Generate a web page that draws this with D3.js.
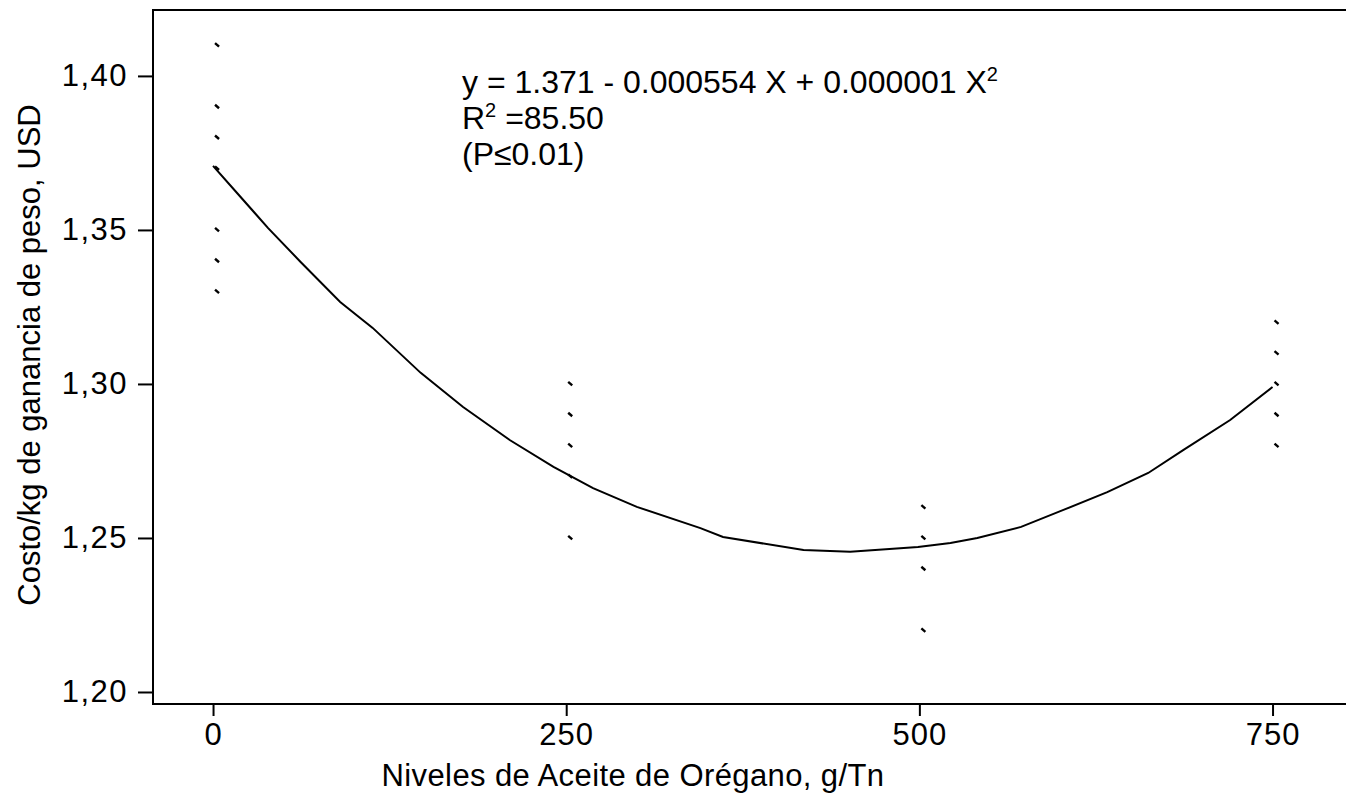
<!DOCTYPE html>
<html>
<head>
<meta charset="utf-8">
<script src="https://cdn.jsdelivr.net/npm/d3@7"></script>
<style>
  body { margin: 0; background: #fff; }
  text { font-family: "Liberation Sans", Arial, sans-serif; fill: #000; }
</style>
</head>
<body>
<script>
// observed points (level g/Tn, cost USD)
var obsX = [0, 0, 0, 0, 0, 0, 0, 250, 250, 250, 250, 250, 500, 500, 500, 500, 750, 750, 750, 750, 750]
var obsY = [1.41, 1.39, 1.38, 1.37, 1.35, 1.34, 1.33, 1.30, 1.29, 1.28, 1.27, 1.25, 1.26, 1.25, 1.24, 1.22, 1.32, 1.31, 1.30, 1.29, 1.28]

// fitted curve
var fitX = [0, 17, 39, 62, 90, 113, 147, 177, 210, 241, 269, 300, 345, 361, 418, 451, 499, 522, 541, 572, 602, 633, 662, 687, 720, 750]
var fitY = [1.3708, 1.3620, 1.3506, 1.3396, 1.3266, 1.3182, 1.3036, 1.2925, 1.2818, 1.2731, 1.2662, 1.2601, 1.2532, 1.2503, 1.2461, 1.2455, 1.2471, 1.2484, 1.2500, 1.2536, 1.2591, 1.2649, 1.2711, 1.2786, 1.2883, 1.2990]

var xTicks = [0, 250, 500, 750]
var yTicks = [1.20, 1.25, 1.30, 1.35, 1.40]

var width = 1346, height = 794
var margin = {left: 153, right: 0, top: 10, bottom: 90}
var font = '"Liberation Sans", Arial, sans-serif'

var svg = d3.select('body').append('svg')
    .attr('width', width)
    .attr('height', height)

var x = d3.scaleLinear()
    .domain([-42.5, 802])
    .range([margin.left, width - margin.right])

var y = d3.scaleLinear()
    .domain([1.1961, 1.4214])
    .range([height - margin.bottom, margin.top])

// frame: left, top, bottom
svg.append('path')
    .attr('d', `M${width},${margin.top}H${margin.left}V${height - margin.bottom}H${width}`)
    .attr('fill', 'none')
    .attr('stroke', '#000')
    .attr('stroke-width', 2)

var fmt = d3.format('.2f')

var yAxis = svg.append('g')
    .attr('transform', `translate(${margin.left},0)`)
    .call(d3.axisLeft(y).tickValues(yTicks).tickSize(15).tickPadding(10)
        .tickFormat(d => fmt(d).replace('.', ',')))
yAxis.select('.domain').remove()
yAxis.selectAll('line').attr('stroke-width', 2)
yAxis.selectAll('text').attr('font-size', 31).attr('font-family', font).attr('letter-spacing', 1.5)

var xAxis = svg.append('g')
    .attr('transform', `translate(0,${height - margin.bottom})`)
    .call(d3.axisBottom(x).tickValues(xTicks).tickSize(12).tickPadding(7))
xAxis.select('.domain').remove()
xAxis.selectAll('line').attr('stroke-width', 2)
xAxis.selectAll('text').attr('font-size', 31).attr('font-family', font).attr('letter-spacing', 1)

// axis titles
svg.append('text')
    .attr('x', 633)
    .attr('y', 786)
    .attr('text-anchor', 'middle')
    .attr('font-size', 31)
    .attr('letter-spacing', 0.4)
    .text('Niveles de Aceite de Orégano, g/Tn')

svg.append('text')
    .attr('transform', 'translate(40,355) rotate(-90)')
    .attr('text-anchor', 'middle')
    .attr('font-size', 31)
    .text('Costo/kg de ganancia de peso, USD')

// fitted curve
var line = d3.line()
    .x(d => x(d[0]))
    .y(d => y(d[1]))

svg.append('path')
    .datum(d3.zip(fitX, fitY))
    .attr('d', line)
    .attr('fill', 'none')
    .attr('stroke', '#000')
    .attr('stroke-width', 2)

// observations as tiny dashes
svg.append('g').selectAll('line')
    .data(d3.zip(obsX, obsY))
    .join('line')
    .attr('x1', d => x(d[0]) + 2)
    .attr('y1', d => y(d[1]) - 2)
    .attr('x2', d => x(d[0]) + 6)
    .attr('y2', d => y(d[1]) + 1.5)
    .attr('stroke', '#000')
    .attr('stroke-width', 2.4)

// equation
var eq = svg.append('g').attr('font-size', 32)
var t1 = eq.append('text').attr('x', 462).attr('y', 93)
t1.append('tspan').text('y = 1.371 - 0.000554 X + 0.000001 X')
t1.append('tspan').attr('font-size', 20).attr('dy', -12).text('2')

var t2 = eq.append('text').attr('x', 462).attr('y', 129)
t2.append('tspan').text('R')
t2.append('tspan').attr('font-size', 20).attr('dy', -12).text('2')
t2.append('tspan').attr('dy', 12).text(' =85.50')

eq.append('text').attr('x', 462).attr('y', 165).text('(P≤0.01)')
</script>
</body>
</html>
